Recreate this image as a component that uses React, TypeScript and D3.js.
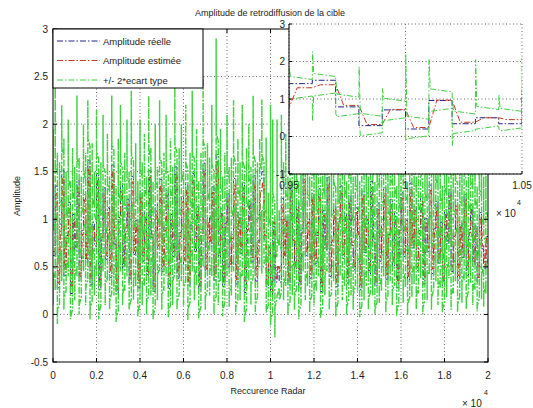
import React from "react";
import * as d3 from "d3";

// Samples per constant-amplitude segment
const SEG = 100;

const realAmp = [
  0.62, 1.35, 0.28, 0.95, 1.52, 0.41, 0.83, 1.18, 0.22, 1.05, 0.67, 1.41, 0.35, 0.88, 1.26, 0.54, 1.62, 0.31, 0.97, 0.72,
  1.48, 0.26, 0.85, 1.33, 0.58, 1.12, 0.39, 1.57, 0.74, 0.21, 1.02, 1.38, 0.47, 0.91, 1.21, 0.33, 1.45, 0.63, 0.99, 0.28,
  1.29, 0.56, 1.08, 0.37, 1.51, 0.81, 0.24, 1.16, 0.69, 1.42, 0.45, 0.92, 1.31, 0.27, 1.05, 0.61, 1.55, 0.38, 0.86, 1.24,
  0.52, 1.37, 0.3, 0.94, 1.48, 0.66, 1.13, 0.25, 0.89, 1.59, 0.43, 1.02, 0.71, 1.34, 0.36, 1.68, 0.57, 1.11, 0.29, 0.96,
  1.27, 0.49, 0.84, 1.43, 0.32, 1.07, 0.64, 1.39, 0.23, 0.93, 1.19, 0.55, 1.46, 0.35, 0.78, 1.41, 1.5, 0.79, 0.29, 0.71,
  0.2, 0.96, 0.34, 0.5, 0.34, 1.22, 0.58, 1.03, 0.31, 1.36, 0.75, 0.44, 1.18, 0.27, 0.9, 1.49, 0.62, 1.01, 0.38, 1.27,
  0.53, 0.86, 1.32, 0.24, 1.09, 0.68, 1.44, 0.4, 0.81, 1.15, 0.29, 0.98, 1.35, 0.59, 1.06, 0.33, 1.25, 0.73, 0.47, 1.12,
  0.87, 0.26, 1.3, 0.65, 1.04, 0.42, 1.4, 0.77, 0.3, 1.17, 0.56, 0.95, 1.33, 0.37, 0.84, 1.21, 0.5, 1.08, 0.28, 0.92,
  1.28, 0.61, 0.99, 0.35, 1.38, 0.7, 1.14, 0.46, 0.88, 1.24, 0.32, 1.01, 0.66, 1.36, 0.43, 0.9, 1.19, 0.54, 0.97, 0.3,
  1.1, 0.74, 1.31, 0.45, 0.85, 1.2, 0.36, 0.96, 0.6, 1.26, 0.41, 0.89, 1.15, 0.52, 0.93, 0.34, 1.07, 0.69, 0.48, 0.82,
];

const estAmp = [
  0.66, 1.27, 0.33, 0.9, 1.45, 0.47, 0.8, 1.12, 0.27, 0.99, 0.71, 1.34, 0.4, 0.84, 1.2, 0.58, 1.55, 0.36, 0.92, 0.75,
  1.41, 0.31, 0.81, 1.27, 0.62, 1.07, 0.44, 1.5, 0.77, 0.26, 0.97, 1.31, 0.52, 0.87, 1.16, 0.38, 1.39, 0.67, 0.95, 0.33,
  1.23, 0.6, 1.03, 0.42, 1.44, 0.84, 0.29, 1.1, 0.72, 1.36, 0.5, 0.88, 1.25, 0.32, 1.0, 0.65, 1.48, 0.43, 0.82, 1.18,
  0.57, 1.3, 0.35, 0.9, 1.41, 0.7, 1.08, 0.3, 0.85, 1.52, 0.48, 0.98, 0.75, 1.28, 0.41, 1.6, 0.62, 1.06, 0.34, 0.92,
  1.21, 0.53, 0.8, 1.37, 0.37, 1.02, 0.68, 1.33, 0.28, 0.89, 1.14, 0.6, 1.39, 0.4, 0.76, 1.3, 1.38, 0.83, 0.32, 0.72,
  0.24, 0.97, 0.38, 0.5, 0.45, 1.16, 0.62, 0.98, 0.36, 1.3, 0.78, 0.49, 1.12, 0.32, 0.86, 1.42, 0.66, 0.97, 0.42, 1.21,
  0.58, 0.83, 1.26, 0.29, 1.04, 0.71, 1.37, 0.45, 0.78, 1.1, 0.34, 0.94, 1.29, 0.63, 1.02, 0.38, 1.19, 0.76, 0.51, 1.07,
  0.84, 0.31, 1.24, 0.68, 1.0, 0.46, 1.33, 0.8, 0.35, 1.11, 0.6, 0.91, 1.27, 0.42, 0.81, 1.15, 0.54, 1.03, 0.33, 0.88,
  1.22, 0.65, 0.95, 0.4, 1.31, 0.73, 1.09, 0.5, 0.85, 1.18, 0.37, 0.97, 0.7, 1.3, 0.48, 0.87, 1.13, 0.58, 0.93, 0.35,
  1.05, 0.77, 1.25, 0.5, 0.82, 1.15, 0.41, 0.92, 0.64, 1.2, 0.46, 0.86, 1.1, 0.56, 0.9, 0.39, 1.02, 0.72, 0.52, 0.8,
];

// Half-width of the +/- 2 sigma band once settled
const bandHalf = [0.22];

const peakHigh = [
  1.95, 2.45, 1.7, 1.6, 2.2, 1.85, 1.5, 2.05, 1.4, 1.75, 1.55, 2.3, 1.65, 1.45, 2.0, 1.7, 2.25, 1.6, 1.8, 1.5,
  2.15, 1.55, 1.6, 2.1, 1.5, 1.9, 1.45, 2.3, 1.65, 1.35, 1.85, 2.2, 1.55, 1.7, 2.05, 1.5, 2.35, 1.6, 1.8, 1.4,
  2.05, 1.6, 1.9, 1.45, 2.3, 1.75, 1.4, 2.0, 1.55, 2.25, 1.6, 1.7, 2.1, 1.45, 1.85, 1.55, 2.4, 1.6, 1.75, 2.0,
  1.5, 2.2, 1.45, 1.7, 2.35, 1.6, 1.95, 1.4, 1.7, 2.5, 1.55, 1.8, 1.65, 2.2, 1.5, 2.9, 1.75, 1.95, 1.45, 1.7,
  2.1, 1.55, 1.65, 2.25, 1.5, 1.85, 1.6, 2.2, 1.4, 1.75, 2.0, 1.55, 2.3, 1.5, 1.6, 1.85, 2.26, 1.5, 1.86, 1.28,
  2.2, 2.05, 1.0, 2.05, 1.1, 2.1, 1.6, 1.9, 1.45, 2.2, 1.65, 1.5, 2.0, 1.4, 1.7, 2.15, 1.55, 1.85, 1.45, 2.0,
  1.55, 1.6, 2.1, 1.4, 1.9, 1.55, 2.15, 1.45, 1.65, 1.95, 1.35, 1.75, 2.05, 1.5, 1.85, 1.4, 2.0, 1.6, 1.45, 1.9,
  1.7, 1.4, 2.1, 1.55, 1.85, 1.45, 2.1, 1.65, 1.4, 1.95, 1.5, 1.75, 2.05, 1.45, 1.7, 1.95, 1.5, 1.85, 1.35, 1.75,
  2.0, 1.55, 1.8, 1.4, 2.1, 1.6, 1.9, 1.45, 1.7, 2.0, 1.4, 1.8, 1.55, 2.05, 1.45, 1.7, 1.95, 1.5, 1.75, 1.35,
  1.85, 1.6, 2.0, 1.45, 1.7, 1.95, 1.4, 1.75, 1.5, 1.95, 1.4, 1.7, 1.9, 1.5, 1.75, 1.35, 1.85, 1.55, 1.45, 1.65,
];

const peakLow = [
  0.1, 0.25, -0.1, 0.2, 0.35, 0.05, 0.3, 0.4, -0.05, 0.25, 0.15, 0.4, 0.0, 0.3, 0.45, 0.1, 0.5, -0.05, 0.3, 0.2,
  0.4, -0.05, 0.2, 0.45, 0.1, 0.35, 0.05, 0.5, 0.2, -0.08, 0.3, 0.45, 0.1, 0.25, 0.4, 0.05, 0.5, 0.15, 0.3, -0.02,
  0.35, 0.1, 0.3, 0.0, 0.45, 0.2, -0.05, 0.35, 0.15, 0.45, 0.05, 0.25, 0.4, -0.03, 0.3, 0.1, 0.5, 0.05, 0.2, 0.35,
  0.1, 0.4, -0.06, 0.25, 0.45, 0.15, 0.3, -0.04, 0.2, 0.5, 0.05, 0.3, 0.2, 0.4, 0.0, 0.55, 0.1, 0.35, -0.02, 0.25,
  0.4, 0.08, 0.2, 0.45, 0.0, 0.3, 0.15, 0.4, -0.08, 0.25, 0.35, 0.1, 0.45, 0.0, 0.2, 0.95, 0.43, 0.6, 0.55, 0.45,
  -0.12, 0.6, -0.24, 0.2, 0.2, 0.35, 0.15, 0.3, 0.0, 0.4, 0.2, 0.05, 0.35, -0.05, 0.25, 0.45, 0.15, 0.3, 0.02, 0.35,
  0.1, 0.25, 0.4, -0.04, 0.3, 0.2, 0.45, 0.05, 0.2, 0.35, -0.02, 0.25, 0.4, 0.15, 0.3, 0.0, 0.35, 0.2, 0.05, 0.3,
  0.25, -0.03, 0.4, 0.15, 0.3, 0.05, 0.45, 0.2, 0.0, 0.35, 0.12, 0.25, 0.4, 0.02, 0.2, 0.35, 0.1, 0.3, -0.02, 0.25,
  0.35, 0.12, 0.28, 0.0, 0.4, 0.18, 0.32, 0.05, 0.22, 0.38, 0.0, 0.28, 0.15, 0.42, 0.05, 0.25, 0.35, 0.1, 0.28, 0.02,
  0.3, 0.18, 0.38, 0.05, 0.22, 0.35, 0.02, 0.28, 0.12, 0.36, 0.06, 0.24, 0.33, 0.1, 0.26, 0.03, 0.3, 0.16, 0.08, 0.22,
];

const mainXTicks = [0, 2000, 4000, 6000, 8000, 10000, 12000, 14000, 16000, 18000, 20000];
const mainXTickLabels = ["0", "0.2", "0.4", "0.6", "0.8", "1", "1.2", "1.4", "1.6", "1.8", "2"];
const mainYTicks = [-0.5, 0, 0.5, 1, 1.5, 2, 2.5, 3];
const mainYTickLabels = ["-0.5", "0", "0.5", "1", "1.5", "2", "2.5", "3"];
const insetXTicks = [9500, 10000, 10500];
const insetXTickLabels = ["0.95", "1", "1.05"];
const insetYTicks = [-1, 0, 1, 2, 3];
const insetYTickLabels = ["-1", "0", "1", "2", "3"];

const legendLabels = ["Amplitude réelle", "Amplitude estimée", "+/- 2*ecart type"];
const titleText = "Amplitude de retrodiffusion de la cible";
const xLabelText = "Reccurence Radar";
const yLabelText = "Amplitude";

const BLUE = "#22228a";
const RED = "#c43a22";
const GREEN = "#3fd23f";
const DASH = "6,2,1.5,2";
const GDASH = "7,1.5,2,1.5";
const FONT = "'Liberation Sans', Arial, sans-serif";

type P = [number, number];

function buildSeries() {
  const n = realAmp.length;
  const band = bandHalf[0];
  const real: P[] = [];
  const est: P[] = [];
  const up: P[] = [];
  const lo: P[] = [];
  for (let i = 0; i < n; i++) {
    const s0 = i * SEG;
    const s1 = (i + 1) * SEG;
    const prev = i > 0 ? estAmp[i - 1] : estAmp[0];
    real.push([s0, realAmp[i]], [s1, realAmp[i]]);
    est.push([s0, prev], [s0 + 35, estAmp[i]], [s1, estAmp[i]]);
    up.push([s0, prev + band], [s0 + 1, peakHigh[i]], [s0 + 6, estAmp[i] + band + 0.08], [s1, estAmp[i] + band]);
    lo.push([s0, prev - band], [s0 + 1, peakLow[i]], [s0 + 6, estAmp[i] - band - 0.08], [s1, estAmp[i] - band]);
  }
  return { real, est, up, lo };
}

const series = buildSeries();

export default function App() {
  const W = 533;
  const H = 408;
  // main axes
  const mx = d3.scaleLinear().domain([0, 20000]).range([53, 488]);
  const my = d3.scaleLinear().domain([-0.5, 3]).range([362, 29]);
  // inset axes
  const ix = d3.scaleLinear().domain([9500, 10500]).range([289, 522]);
  const iy = d3.scaleLinear().domain([-1, 3]).range([174, 24]);

  const mainLine = d3.line<P>().x((d) => mx(d[0])).y((d) => my(d[1]));
  const insetLine = d3.line<P>().x((d) => ix(d[0])).y((d) => iy(d[1]));
  const insetSub = (arr: P[]) => arr.filter((d) => d[0] >= 9300 && d[0] <= 10700);

  const gridStroke = "#666";
  const gridDash = "1,2.5";

  return (
    <svg
      width={W}
      height={H}
      style={{ position: "absolute", left: 0, top: 0, background: "#fff" }}
      fontFamily={FONT}
    >
      <defs>
        <clipPath id="mainClip">
          <rect x={53} y={29} width={435} height={333} />
        </clipPath>
        <clipPath id="insetClip">
          <rect x={289} y={24} width={233} height={150} />
        </clipPath>
      </defs>
      <rect x={0} y={0} width={W} height={H} fill="#fff" />

      {/* main grid */}
      {mainXTicks.slice(1, -1).map((t) => (
        <line key={"gx" + t} x1={mx(t)} x2={mx(t)} y1={29} y2={362} stroke={gridStroke} strokeDasharray={gridDash} strokeWidth={1} />
      ))}
      {mainYTicks.slice(1, -1).map((t) => (
        <line key={"gy" + t} x1={53} x2={488} y1={my(t)} y2={my(t)} stroke={gridStroke} strokeDasharray={gridDash} strokeWidth={1} />
      ))}

      {/* main data */}
      <g clipPath="url(#mainClip)" fill="none">
        <path d={mainLine(series.real) || ""} stroke={BLUE} strokeWidth={1} strokeDasharray={DASH} />
        <path d={mainLine(series.est) || ""} stroke={RED} strokeWidth={1.3} strokeDasharray={DASH} />
        <path d={mainLine(series.up) || ""} stroke={GREEN} strokeWidth={1.45} strokeDasharray={GDASH} />
        <path d={mainLine(series.lo) || ""} stroke={GREEN} strokeWidth={1.45} strokeDasharray={GDASH} />
      </g>

      {/* main axes box */}
      <rect x={53} y={29} width={435} height={333} fill="none" stroke="#000" strokeWidth={1} />
      {mainXTicks.map((t, i) => (
        <g key={"xt" + t}>
          <line x1={mx(t)} x2={mx(t)} y1={362} y2={358} stroke="#000" />
          <line x1={mx(t)} x2={mx(t)} y1={29} y2={33} stroke="#000" />
          <text x={mx(t)} y={379} fontSize={10} textAnchor="middle" fill="#222">
            {mainXTickLabels[i]}
          </text>
        </g>
      ))}
      {mainYTicks.map((t, i) => (
        <g key={"yt" + t}>
          <line x1={53} x2={57} y1={my(t)} y2={my(t)} stroke="#000" />
          <line x1={488} x2={484} y1={my(t)} y2={my(t)} stroke="#000" />
          <text x={48} y={my(t) + 3.5} fontSize={10} textAnchor="end" fill="#222">
            {mainYTickLabels[i]}
          </text>
        </g>
      ))}
      <text x={270} y={16} fontSize={9} textAnchor="middle" fill="#222">
        {titleText}
      </text>
      <text x={268} y={394} fontSize={9} textAnchor="middle" fill="#222">
        {xLabelText}
      </text>
      <text transform="translate(20,196) rotate(-90)" fontSize={9} textAnchor="middle" fill="#222">
        {yLabelText}
      </text>
      <text x={462} y={407} fontSize={10} fill="#222">× 10</text>
      <text x={484} y={395} fontSize={7} fill="#222">4</text>

      {/* legend */}
      <rect x={53} y={29} width={150} height={59} fill="#fff" stroke="#000" strokeWidth={1} />
      {legendLabels.map((lab, i) => {
        const yy = 41 + i * 19.5;
        const c = [BLUE, RED, GREEN][i];
        return (
          <g key={lab}>
            <line x1={57} x2={100} y1={yy} y2={yy} stroke={c} strokeWidth={1} strokeDasharray={DASH} />
            <text x={103} y={yy + 3.5} fontSize={9.5} fill="#222">
              {lab}
            </text>
          </g>
        );
      })}

      {/* inset */}
      <rect x={289} y={24} width={233} height={150} fill="#fff" />
      {insetXTicks.map((t) => (
        <line key={"igx" + t} x1={ix(t)} x2={ix(t)} y1={24} y2={174} stroke={gridStroke} strokeDasharray={gridDash} />
      ))}
      {insetYTicks.map((t) => (
        <line key={"igy" + t} x1={289} x2={522} y1={iy(t)} y2={iy(t)} stroke={gridStroke} strokeDasharray={gridDash} />
      ))}
      <g clipPath="url(#insetClip)" fill="none">
        <path d={insetLine(insetSub(series.real)) || ""} stroke={BLUE} strokeWidth={1} strokeDasharray={DASH} />
        <path d={insetLine(insetSub(series.est)) || ""} stroke={RED} strokeWidth={1} strokeDasharray={DASH} />
        <path d={insetLine(insetSub(series.up)) || ""} stroke={GREEN} strokeWidth={1} strokeDasharray={DASH} />
        <path d={insetLine(insetSub(series.lo)) || ""} stroke={GREEN} strokeWidth={1} strokeDasharray={DASH} />
      </g>
      <line x1={289} x2={289} y1={24} y2={174} stroke="#000" />
      <line x1={289} x2={522} y1={174} y2={174} stroke="#000" />
      {insetYTicks.map((t, i) => (
        <g key={"iyt" + t}>
          <line x1={289} x2={292} y1={iy(t)} y2={iy(t)} stroke="#000" />
          <text x={285} y={iy(t) + 3.5} fontSize={10} textAnchor="end" fill="#222">
            {insetYTickLabels[i]}
          </text>
        </g>
      ))}
      {insetXTicks.map((t, i) => (
        <g key={"ixt" + t}>
          <line x1={ix(t)} x2={ix(t)} y1={174} y2={171} stroke="#000" />
          <text x={ix(t)} y={189} fontSize={10} textAnchor="middle" fill="#222">
            {insetXTickLabels[i]}
          </text>
        </g>
      ))}
      <text x={496} y={217} fontSize={10} fill="#222">× 10</text>
      <text x={517} y={205} fontSize={7} fill="#222">4</text>
    </svg>
  );
}
